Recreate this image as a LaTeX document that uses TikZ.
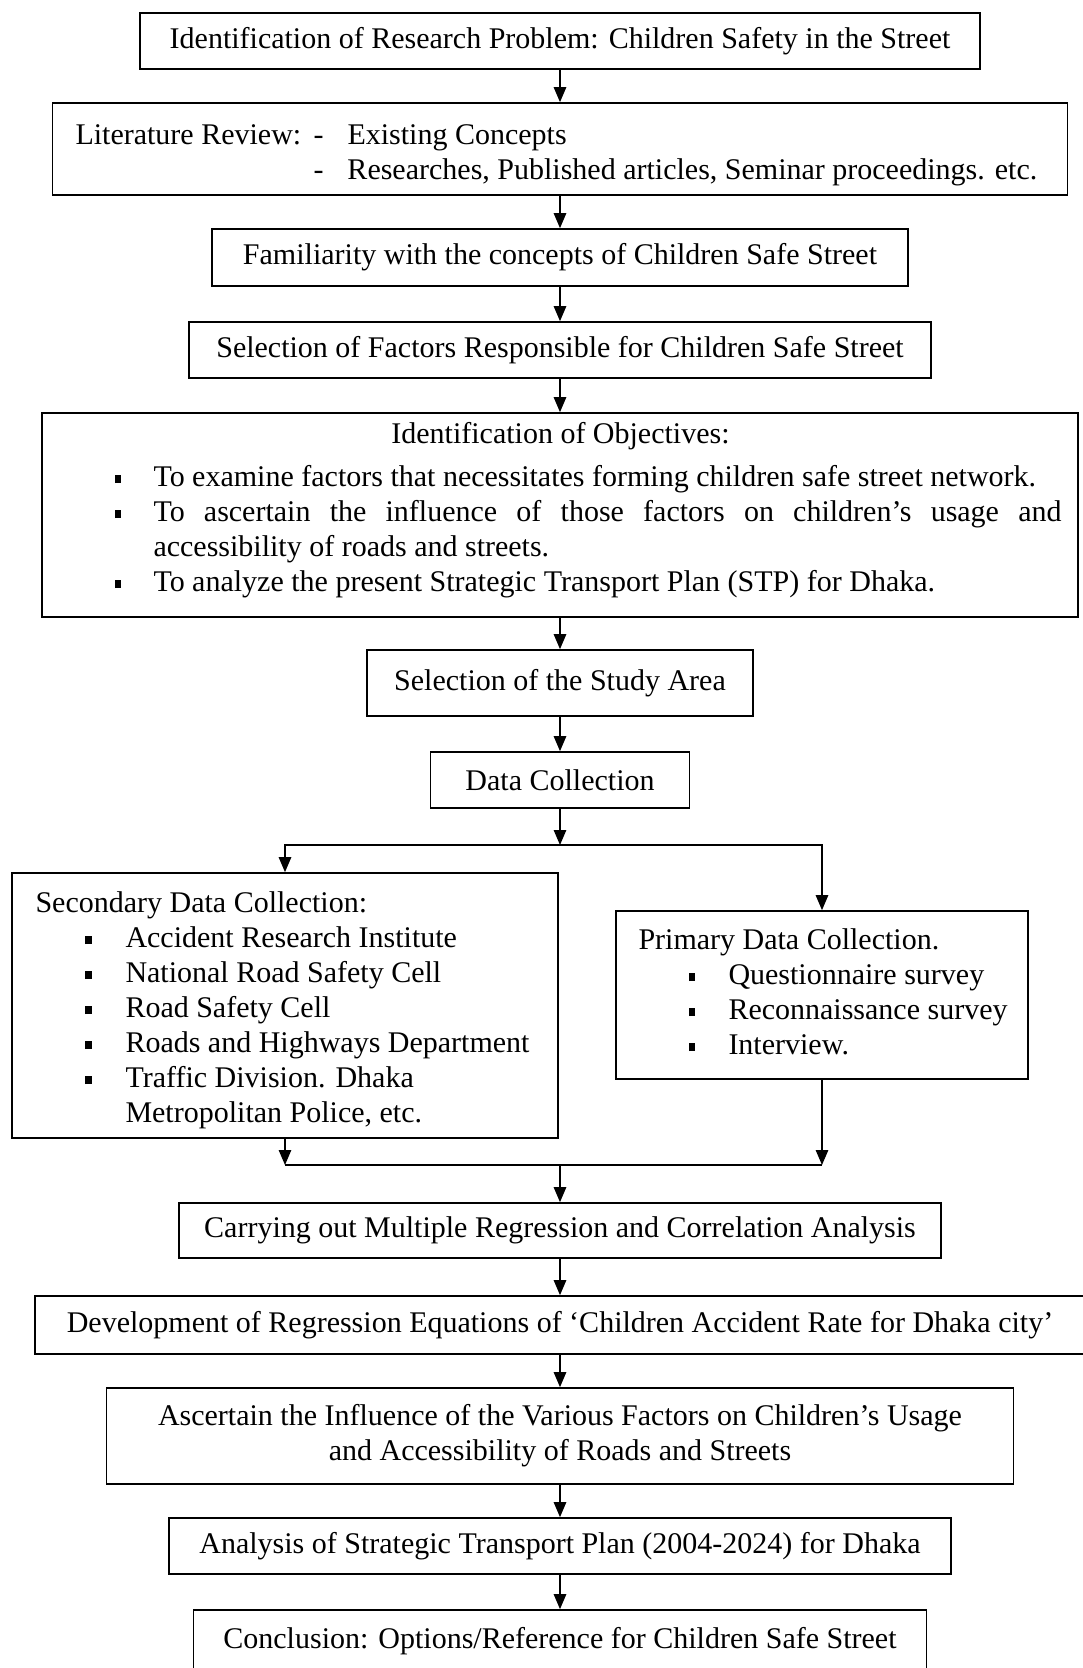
\documentclass[tikz,border=0pt]{standalone}
\usepackage{fontspec}
\setmainfont{Liberation Serif}
\usetikzlibrary{arrows.meta}

\tikzset{
  stepbox/.style={rectangle, draw, line width=0.7pt, align=center, inner sep=0pt,
    font=\fontsize{12pt}{14pt}\selectfont},
  bodytext/.style={inner sep=0pt, align=left, anchor=base west,
    font=\fontsize{12pt}{14pt}\selectfont},
  arr/.style={-{Triangle[width=5pt,length=6pt]}, line width=0.5pt},
}
\newcommand{\sqbul}{\rule[1.2pt]{2.6pt}{3.2pt}}
\newcommand{\bulitem}[1]{\hspace*{20pt}\makebox[16pt][l]{\sqbul}#1}

\begin{document}
\begin{tikzpicture}[x=0.4pt,y=-0.4pt]
       \useasboundingbox (0,0) rectangle (1082,1668);

       % main column
       \node[stepbox, minimum width=336pt, minimum height=22.4pt] (prob) at (560,41) {Identification of Research Problem: Children Safety in the Street};
       \node[stepbox, minimum width=406pt, minimum height=36.8pt] (lit) at (560,149) {};
       % multi-line text: base sits on the last line
       \node[bodytext] (littxt) at (75,179) {\makebox[95.2pt][l]{Literature Review:}\makebox[13.6pt][l]{-}Existing Concepts\\
         \hspace*{95.2pt}\makebox[13.6pt][l]{-}Researches, Published articles, Seminar proceedings. etc.};
       \node[stepbox, minimum width=278.4pt, minimum height=22.8pt] (famil) at (560,257.5) {Familiarity with the concepts of Children Safe Street};
       \node[stepbox, minimum width=296.8pt, minimum height=22.4pt] (factors) at (560,350) {Selection of Factors Responsible for Children Safe Street};
       \node[stepbox, minimum width=414.4pt, minimum height=81.6pt] (objs) at (560,515) {};
       \node[bodytext] (objtxt) at (114,591) {\makebox[356.8pt]{Identification of Objectives:}\\[3pt]
         \makebox[15.6pt][l]{\sqbul}To examine factors that necessitates forming children safe street network.\\
         \makebox[15.6pt][l]{\sqbul}\makebox[363.2pt][s]{To ascertain the influence of those factors on children’s usage and}\\
         \hspace*{15.6pt}accessibility of roads and streets.\\
         \makebox[15.6pt][l]{\sqbul}To analyze the present Strategic Transport Plan (STP) for Dhaka.};
       \node[stepbox, minimum width=154.4pt, minimum height=26.4pt] (area) at (560,683) {Selection of the Study Area};
       \node[stepbox, minimum width=103.6pt, minimum height=22.4pt] (data) at (560,780) {Data Collection};

       % two branches
       \coordinate (split) at (560,845);
       \node[stepbox, minimum width=218.4pt, minimum height=106pt] (second) at (285,1005.5) {};
       \node[bodytext] (sectxt) at (35,1122) {Secondary Data Collection:\\
         \bulitem{Accident Research Institute}\\
         \bulitem{National Road Safety Cell}\\
         \bulitem{Road Safety Cell}\\
         \bulitem{Roads and Highways Department}\\
         \bulitem{Traffic Division. Dhaka}\\
         \hspace*{36pt}Metropolitan Police, etc.};
       \node[stepbox, minimum width=164.8pt, minimum height=67.2pt] (primary) at (822,995) {};
       \node[bodytext] (primtxt) at (638,1054) {Primary Data Collection.\\
         \bulitem{Questionnaire survey}\\
         \bulitem{Reconnaissance survey}\\
         \bulitem{Interview.}};
       \coordinate (merge) at (560,1165);

       \node[stepbox, minimum width=304.8pt, minimum height=22pt] (regress) at (560,1230.5) {Carrying out Multiple Regression and Correlation Analysis};
       \node[stepbox, minimum width=420pt, minimum height=23.2pt] (equations) at (560,1325) {Development of Regression Equations of ‘Children Accident Rate for Dhaka city’};
       \node[stepbox, minimum width=362.8pt, minimum height=38.4pt] (ascert) at (560,1436) {Ascertain the Influence of the Various Factors on Children’s Usage\\and Accessibility of Roads and Streets};
       \node[stepbox, minimum width=312.8pt, minimum height=22.4pt] (stp) at (560,1546) {Analysis of Strategic Transport Plan (2004-2024) for Dhaka};
       \node[stepbox, minimum width=293.2pt, minimum height=24.8pt] (concl) at (560,1641) {Conclusion: Options/Reference for Children Safe Street};

       % connectors
       \draw[arr] (prob) -- (lit);
       \draw[arr] (lit) -- (famil);
       \draw[arr] (famil) -- (factors);
       \draw[arr] (factors) -- (objs);
       \draw[arr] (objs) -- (area);
       \draw[arr] (area) -- (data);
       \draw[arr] (data) -- (split);
       \draw[arr] (split) -| (second);
       \draw[arr] (split) -| (primary);
       \draw[arr] (second) -- (second.south |- merge);
       \draw[arr] (primary) -- (primary.south |- merge);
       \draw[line width=0.5pt] (second.south |- merge) -- (primary.south |- merge);
       \draw[arr] (merge) -- (regress);
       \draw[arr] (regress) -- (equations);
       \draw[arr] (equations) -- (ascert);
       \draw[arr] (ascert) -- (stp);
       \draw[arr] (stp) -- (concl);
\end{tikzpicture}
\end{document}
